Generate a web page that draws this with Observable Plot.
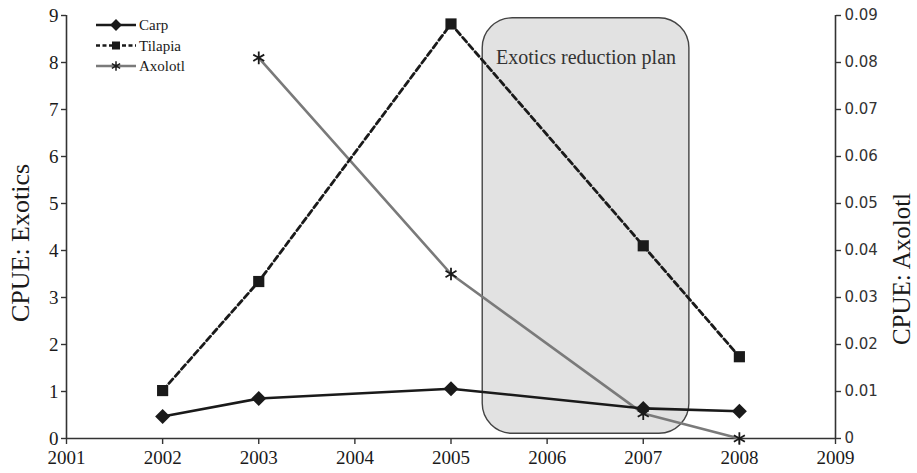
<!DOCTYPE html>
<html>
<head>
<meta charset="utf-8">
<script src="https://cdn.jsdelivr.net/npm/d3@7"></script>
<script src="https://cdn.jsdelivr.net/npm/@observablehq/plot@0.6"></script>
<style>
  body { margin: 0; background: #fff; }
  #chart { position: relative; width: 917px; height: 473px; }
  #legend { position: absolute; left: 0; top: 0; pointer-events: none; }
</style>
</head>
<body>
<div id="chart"></div>
<script>
// Catch per unit effort (CPUE) of exotic species and axolotl, 2002–2008
const years = [2002, 2003, 2005, 2007, 2008];
const carp = [0.47, 0.85, 1.06, 0.64, 0.58];
const tilapia = [1.02, 3.34, 8.82, 4.1, 1.74];
const axolotlYears = [2003, 2005, 2007, 2008];
const axolotl = [0.081, 0.035, 0.0053, 0];

const xTicks = [2001, 2002, 2003, 2004, 2005, 2006, 2007, 2008, 2009];
const exoticTicks = [0, 1, 2, 3, 4, 5, 6, 7, 8, 9];
const axolotlTicks = [0, 0.01, 0.02, 0.03, 0.04, 0.05, 0.06, 0.07, 0.08, 0.09];

// Management period highlighted behind the series
const planLabel = "Exotics reduction plan";
const planYears = [2005.33, 2007.48];
const planExtent = [0.1, 8.94];

const seriesNames = ["Carp", "Tilapia", "Axolotl"];

// Axolotl values share the frame through a fixed ratio between the two axes
const ratio = exoticTicks[exoticTicks.length - 1] / axolotlTicks[axolotlTicks.length - 1];

const carpData = years.map((year, i) => ({year, value: carp[i]}));
const tilapiaData = years.map((year, i) => ({year, value: tilapia[i]}));
const axolotlData = axolotlYears.map((year, i) => ({year, value: axolotl[i] * ratio}));

const ink = "#1a1a1a";
const axisInk = "#333";
const serif = "Liberation Serif, Times New Roman, serif";

// A square turned on its corner (equal width and height)
const rhombus = {
  draw(context, size) {
    const h = Math.sqrt(size / 2);
    context.moveTo(0, -h);
    context.lineTo(h, 0);
    context.lineTo(0, h);
    context.lineTo(-h, 0);
    context.closePath();
  }
};

const chart = Plot.plot({
  width: 917,
  height: 473,
  marginLeft: 66,
  marginRight: 82,
  marginTop: 15,
  marginBottom: 35,
  style: {fontFamily: serif, fontSize: "19px", color: ink, background: "#fff"},
  x: {domain: [2001, 2009]},
  y: {domain: [0, 9]},
  marks: [
    Plot.rect([{x1: planYears[0], x2: planYears[1], y1: planExtent[0], y2: planExtent[1]}], {
      x1: "x1", x2: "x2", y1: "y1", y2: "y2",
      fill: "#e2e2e2", stroke: "#444", strokeWidth: 1.4, rx: 30
    }),
    Plot.text([planLabel], {
      x: (planYears[0] + planYears[1]) / 2, y: 8.1,
      text: d => d, fontSize: 20, fill: "#333", fontFamily: serif
    }),
    // axes
    Plot.ruleY([0], {stroke: axisInk, strokeWidth: 1.6}),
    Plot.ruleX([2001], {stroke: axisInk, strokeWidth: 1.6}),
    Plot.ruleX([2009], {stroke: axisInk, strokeWidth: 1.6}),
    Plot.axisX({ticks: xTicks, tickFormat: d => String(d), tickSize: 6, tickPadding: 6, stroke: axisInk, strokeWidth: 1.4, label: null, fontSize: 19}),
    Plot.axisY({ticks: exoticTicks, tickSize: 5, tickPadding: 3, stroke: axisInk, strokeWidth: 1.4, label: null, fontSize: 19}),
    Plot.axisY({
      anchor: "right", ticks: axolotlTicks.map(v => v * ratio),
      tickFormat: d => d3.format(".2~f")(d / ratio),
      tickSize: 5, tickPadding: 4, stroke: axisInk, strokeWidth: 1.4, label: null,
      fontFamily: "DejaVu Sans, sans-serif", fontSize: 15, fill: "#333"
    }),
    Plot.text(["CPUE: Exotics"], {frameAnchor: "left", textAnchor: "middle", rotate: -90, dx: -46, dy: 16, fontSize: 26, fontFamily: serif}),
    Plot.text(["CPUE: Axolotl"], {frameAnchor: "right", textAnchor: "middle", rotate: -90, dx: 66, dy: 42, fontSize: 25, fontFamily: serif}),
    // series
    Plot.line(axolotlData, {x: "year", y: "value", stroke: "#7a7a7a", strokeWidth: 2.6}),
    Plot.line(tilapiaData, {x: "year", y: "value", stroke: ink, strokeWidth: 2.8, strokeDasharray: "6,3.5"}),
    Plot.line(carpData, {x: "year", y: "value", stroke: ink, strokeWidth: 2.6}),
    Plot.dot(carpData, {x: "year", y: "value", symbol: rhombus, r: 6, fill: ink}),
    Plot.dot(tilapiaData, {x: "year", y: "value", symbol: "square", r: 6.3, fill: ink}),
    Plot.dot(axolotlData, {x: "year", y: "value", symbol: "asterisk", r: 6, stroke: ink, strokeWidth: 1.8})
  ]
});

const container = document.getElementById("chart");
container.appendChild(chart);

// Legend in the upper-left corner of the frame
const legend = d3.select(container).append("svg")
  .attr("id", "legend").attr("width", 917).attr("height", 473);
const styles = [
  {symbol: rhombus, size: 70, dash: null, stroke: ink, width: 2.4, fill: ink},
  {symbol: d3.symbolSquare, size: 64, dash: "4,2.5", stroke: ink, width: 2.6, fill: ink},
  {symbol: d3.symbolAsterisk, size: 64, dash: null, stroke: "#7a7a7a", width: 2.6, fill: "none"}
];
seriesNames.forEach((name, i) => {
  const s = styles[i];
  const g = legend.append("g").attr("transform", `translate(0,${25 + i * 20.5})`);
  g.append("line").attr("x1", 96).attr("x2", 136).attr("y1", 0).attr("y2", 0)
    .attr("stroke", s.stroke).attr("stroke-width", s.width)
    .attr("stroke-dasharray", s.dash);
  g.append("path").attr("d", d3.symbol(s.symbol, s.size)())
    .attr("transform", "translate(116,0)")
    .attr("fill", s.fill).attr("stroke", i === 2 ? ink : "none").attr("stroke-width", 1.5);
  g.append("text").attr("x", 139).attr("y", 0).attr("dy", "0.35em")
    .attr("font-family", serif).attr("font-size", 15).attr("fill", ink).text(name);
});
</script>
</body>
</html>
